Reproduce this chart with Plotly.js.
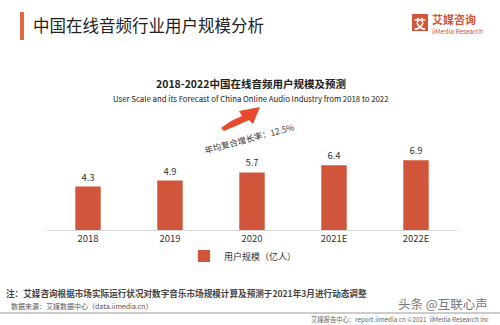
<!DOCTYPE html>
<html><head><meta charset="utf-8">
<script src="https://cdn.plot.ly/plotly-3.0.1.min.js"></script>
<style>html,body{margin:0;padding:0;background:#fff;}#chart{width:500px;height:325px;}</style>
</head><body><div id="chart"></div>
<script>
const categories = ['2018', '2019', '2020', '2021E', '2022E'];
const users = [4.3, 4.9, 5.7, 6.4, 6.9];
const labels = ['4.3', '4.9', '5.7', '6.4', '6.9'];
const seriesName = '用户规模（亿人）';

const W = 500, H = 325;
const L = 47, R = 43, T = 130, B = 95;
const PW = W - L - R, PH = H - T - B;
const fx = px => (px - L) / PW;
const fy = py => (H - B - py) / PH;
const FONT = '"Noto Sans CJK SC", "Noto Sans", sans-serif';
const BAR = '#d0553a';

function ann(text, px, py, size, color, opts) {
  return Object.assign({text: text, x: fx(px), y: fy(py), xref: 'paper', yref: 'paper',
    showarrow: false, font: {size: size, color: color, family: FONT}, xanchor: 'left', yanchor: 'middle'}, opts || {});
}

const arrowPts = [[221,128],[231,121],[242,116],[239,111],[260,107],[253,124],[249,120],[238,125],[224,131]];
let arrowPath = 'M ' + arrowPts.map(p => fx(p[0]).toFixed(4) + ',' + fy(p[1]).toFixed(4)).join(' L ') + ' Z';

const data = [{
  type: 'bar', x: categories, y: users, name: seriesName,
  text: labels, textposition: 'outside', cliponaxis: false,
  textfont: {size: 9.5, color: '#333', family: FONT},
  marker: {color: BAR}, hoverinfo: 'none'
}];

const layout = {
  width: W, height: H,
  margin: {l: L, r: R, t: T, b: B, pad: 0},
  paper_bgcolor: '#fff', plot_bgcolor: '#fff',
  font: {family: FONT, color: '#333'},
  bargap: 0.69,
  showlegend: true,
  legend: {orientation: 'h', x: fx(243), xanchor: 'center', y: fy(256), yanchor: 'middle',
    font: {size: 9, color: '#333', family: FONT}, itemwidth: 30, bgcolor: 'rgba(0,0,0,0)'},
  xaxis: {type: 'category', showline: true, linecolor: '#d9d9d9', linewidth: 1,
    ticks: '', tickfont: {size: 9.5, color: '#333', family: FONT}, showgrid: false, zeroline: false,
    fixedrange: true},
  yaxis: {range: [0, 9.9], visible: false, showgrid: false, zeroline: false, fixedrange: true},
  shapes: [
    {type: 'rect', xref: 'paper', yref: 'paper', x0: fx(20), x1: fx(24), y0: fy(12), y1: fy(40),
      fillcolor: '#e4683f', line: {width: 0}},
    {type: 'rect', xref: 'paper', yref: 'paper', x0: fx(412), x1: fx(428), y0: fy(14), y1: fy(31),
      fillcolor: '#d0553a', line: {width: 0}},
    {type: 'path', xref: 'paper', yref: 'paper', path: arrowPath, fillcolor: '#e84a30', line: {width: 0}},
    {type: 'line', xref: 'paper', yref: 'paper', x0: fx(0), x1: fx(500), y0: fy(313), y1: fy(313),
      line: {color: '#9a9a9a', width: 1}}
  ],
  annotations: [
    ann('中国在线音频行业用户规模分析', 31, 25, 16.5, '#222'),
    ann('<b>艾</b>', 420, 23, 12, '#fff', {xanchor: 'center'}),
    ann('<b>艾媒咨询</b>', 430, 19, 11, '#d0553a'),
    ann('iiMedia Research', 430, 31, 6.5, '#d0553a'),
    ann('<b>2018-2022中国在线音频用户规模及预测</b>', 251, 83, 10.5, '#222', {xanchor: 'center'}),
    ann('User Scale and its Forecast of China Online Audio Industry from 2018 to 2022', 251, 98, 7.8, '#222', {xanchor: 'center'}),
    ann('年均复合增长率：12.5%', 249, 138, 8.5, '#333', {xanchor: 'center', textangle: -15}),
    ann('<b>注：艾媒咨询根据市场实际运行状况对数字音乐市场规模计算及预测于2021年3月进行动态调整</b>', 4, 293, 8.6, '#444'),
    ann('数据来源：艾媒数据中心（data.iimedia.cn）', 9, 306, 7, '#555'),
    ann('头条 @互联心声', 490, 303, 12.5, '#777', {xanchor: 'right'}),
    ann('艾媒报告中心：report.iimedia.cn ©2021  iiMedia Research Inc', 492, 319, 6.3, '#666', {xanchor: 'right'})
  ]
};

Plotly.newPlot('chart', data, layout, {displayModeBar: false, staticPlot: true});
</script></body></html>
